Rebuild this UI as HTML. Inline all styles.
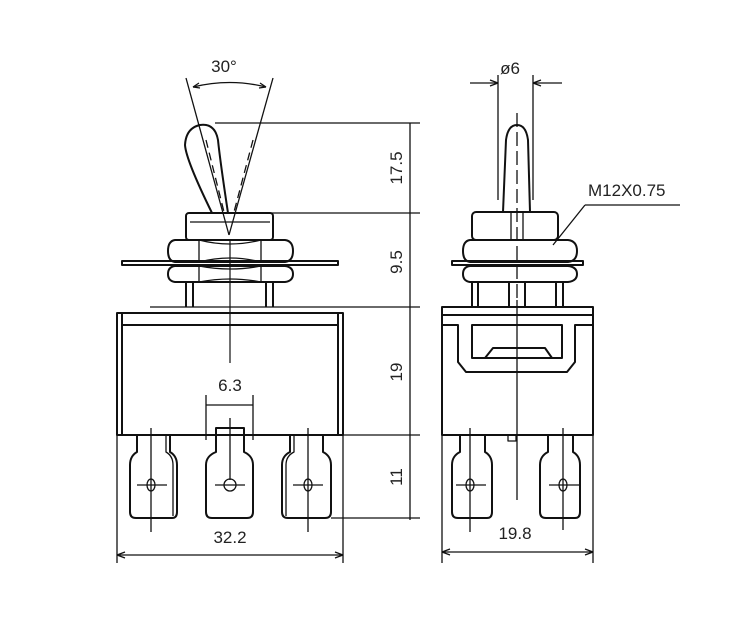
<!DOCTYPE html>
<html><head><meta charset="utf-8"><style>
html,body{margin:0;padding:0;background:#fff;}
svg{display:block;}
text{font-family:"Liberation Sans",sans-serif;fill:#222;}
</style></head><body>
<svg width="734" height="622" viewBox="0 0 734 622" xmlns="http://www.w3.org/2000/svg">
<g fill="none" stroke="#111" stroke-width="2" stroke-linejoin="round">
<!-- LEFT VIEW -->
<line x1="186" y1="78" x2="229" y2="235" stroke-width="1.3"/>
<line x1="273" y1="78" x2="229" y2="235" stroke-width="1.3"/>
<path d="M193 87 Q230 78 266 87" stroke-width="1.3"/>
<path d="M193 87 l6 -4 M193 87 l7 1 M266 87 l-6 -4 M266 87 l-7 1" stroke-width="1.2"/>
<path d="M200 125 Q186 128 185 145 Q186 160 212 213 L228 213 Q220 160 218 140 Q215 123 200 125 Z"/>
<line x1="206" y1="140" x2="224" y2="212" stroke-width="1.3" stroke-dasharray="8,5"/>
<line x1="253" y1="140" x2="234" y2="212" stroke-width="1.3" stroke-dasharray="8,5"/>
<rect x="186" y="213" width="87" height="27" rx="3"/>
<line x1="190" y1="222" x2="270" y2="222" stroke-width="1.3"/>
<path d="M175 240 L285 240 Q293 241 293 251 Q293 261 285 262 L175 262 Q168 261 168 251 Q168 241 175 240 Z"/>
<path d="M199 240 Q230 248 261 240 M199 262 Q230 254 261 262 M199 240 L199 262 M261 240 L261 262" stroke-width="1.3"/>
<rect x="122" y="261" width="216" height="4"/>
<path d="M175 266 L285 266 Q293 267 293 274 Q293 281 285 282 L175 282 Q168 281 168 274 Q168 267 175 266 Z"/>
<path d="M199 266 Q230 272 261 266 M199 282 Q230 276 261 282 M199 266 L199 282 M261 266 L261 282" stroke-width="1.3"/>
<line x1="186" y1="282" x2="186" y2="307"/><line x1="193" y1="282" x2="193" y2="307"/>
<line x1="266" y1="282" x2="266" y2="307"/><line x1="273" y1="282" x2="273" y2="307"/>
<line x1="150" y1="307" x2="420" y2="307" stroke-width="1.3"/>
<rect x="117" y="313" width="226" height="122"/>
<line x1="122" y1="313" x2="122" y2="435"/><line x1="338" y1="313" x2="338" y2="435"/>
<line x1="122" y1="325" x2="338" y2="325"/>
<line x1="117" y1="435" x2="117" y2="563" stroke-width="1.3"/>
<line x1="343" y1="435" x2="343" y2="563" stroke-width="1.3"/>
<line x1="230" y1="240" x2="230" y2="363" stroke-width="1.2"/>
<path d="M137 435 L137 452 Q130 456 130 465 L130 512 Q130 518 136 518 L172 518 Q177 518 177 512 L177 465 Q177 456 170 452 L170 435"/>
<path d="M166 435 L166 452 Q173 456 173 465 L173 516" stroke-width="1.3"/>
<path d="M216 428 L216 452 Q206 456 206 465 L206 512 Q206 518 212 518 L247 518 Q253 518 253 512 L253 465 Q253 456 244 452 L244 428 Z"/>
<path d="M290 435 L290 452 Q282 456 282 465 L282 512 Q282 518 288 518 L325 518 Q331 518 331 512 L331 465 Q331 456 323 452 L323 435"/>
<path d="M294 435 L294 452 Q286 456 286 465 L286 516" stroke-width="1.3"/>
<g stroke-width="1.3">
<ellipse cx="151" cy="485" rx="4" ry="6"/><line x1="137" y1="485" x2="167" y2="485"/><line x1="151" y1="428" x2="151" y2="532"/>
<circle cx="230" cy="485" r="6"/><line x1="215" y1="485" x2="245" y2="485"/><line x1="230" y1="418" x2="230" y2="480"/>
<ellipse cx="308" cy="485" rx="4" ry="6"/><line x1="293" y1="485" x2="323" y2="485"/><line x1="308" y1="428" x2="308" y2="532"/>
<line x1="206" y1="395" x2="206" y2="440"/><line x1="253" y1="395" x2="253" y2="440"/>
<line x1="206" y1="405" x2="253" y2="405"/>
<line x1="117" y1="555" x2="343" y2="555"/>
<path d="M117 555 l8 -3 M117 555 l8 3 M343 555 l-8 -3 M343 555 l-8 3"/>
<line x1="215" y1="123" x2="420" y2="123"/>
<line x1="265" y1="213" x2="420" y2="213"/>
<line x1="338" y1="435" x2="420" y2="435"/>
<line x1="331" y1="518" x2="420" y2="518"/>
<line x1="410" y1="123" x2="410" y2="520"/>
</g>
<!-- RIGHT VIEW -->
<g stroke-width="1.3">
<line x1="498" y1="75" x2="498" y2="200"/><line x1="533" y1="75" x2="533" y2="200"/>
<line x1="470" y1="83" x2="498" y2="83"/><line x1="533" y1="83" x2="562" y2="83"/>
<path d="M498 83 l-8 -3 M498 83 l-8 3 M533 83 l8 -3 M533 83 l8 3"/>
<line x1="517" y1="113" x2="517" y2="300" stroke-dasharray="14,5"/>
<line x1="517" y1="300" x2="517" y2="500"/>
<line x1="585" y1="205" x2="680" y2="205"/>
<line x1="585" y1="205" x2="553" y2="245"/>
</g>
<path d="M503 212 L506 140 Q508 125 517 125 Q526 125 528 140 L530 212"/>
<rect x="472" y="212" width="86" height="28" rx="4"/>
<line x1="511" y1="212" x2="511" y2="240" stroke-width="1.3"/><line x1="523" y1="212" x2="523" y2="240" stroke-width="1.3"/>
<path d="M470 240 L568 240 Q577 241 577 251 Q577 261 568 262 L470 262 Q463 261 463 251 Q463 241 470 240 Z"/>
<rect x="452" y="261" width="131" height="4"/>
<path d="M470 266 L568 266 Q577 267 577 274 Q577 281 568 282 L470 282 Q463 281 463 274 Q463 267 470 266 Z"/>
<line x1="472" y1="282" x2="472" y2="307"/><line x1="478" y1="282" x2="478" y2="307"/>
<line x1="509" y1="282" x2="509" y2="307"/><line x1="525" y1="282" x2="525" y2="307"/>
<line x1="556" y1="282" x2="556" y2="307"/><line x1="563" y1="282" x2="563" y2="307"/>
<rect x="442" y="307" width="151" height="128"/>
<line x1="442" y1="315" x2="593" y2="315"/>
<path d="M443 325 L458 325 L458 362 L466 372 L567 372 L575 362 L575 325 L592 325"/>
<rect x="472" y="325" width="90" height="33"/>
<path d="M485 358 L493 348 L545 348 L552 358"/>
<line x1="442" y1="435" x2="442" y2="563" stroke-width="1.3"/>
<line x1="593" y1="435" x2="593" y2="563" stroke-width="1.3"/>
<path d="M442 435 L508 435 L508 441 L516 441 L516 435 L593 435" stroke-width="1.3"/>
<path d="M460 435 L460 452 Q452 456 452 465 L452 512 Q452 518 458 518 L487 518 Q492 518 492 512 L492 465 Q492 456 485 452 L485 435"/>
<path d="M548 435 L548 452 Q540 456 540 465 L540 512 Q540 518 546 518 L575 518 Q580 518 580 512 L580 465 Q580 456 573 452 L573 435"/>
<g stroke-width="1.3">
<ellipse cx="470" cy="485" rx="4" ry="6"/><line x1="456" y1="485" x2="486" y2="485"/><line x1="470" y1="428" x2="470" y2="532"/>
<ellipse cx="563" cy="485" rx="4" ry="6"/><line x1="549" y1="485" x2="579" y2="485"/><line x1="563" y1="428" x2="563" y2="530"/>
<line x1="442" y1="552" x2="593" y2="552"/>
<path d="M442 552 l8 -3 M442 552 l8 3 M593 552 l-8 -3 M593 552 l-8 3"/>
</g>
</g>
<g font-size="17">
<text x="224" y="72" text-anchor="middle">30°</text>
<text x="230" y="391" text-anchor="middle">6.3</text>
<text x="230" y="543" text-anchor="middle">32.2</text>
<text x="515" y="539" text-anchor="middle">19.8</text>
<text x="510" y="74" text-anchor="middle">ø6</text>
<text x="588" y="196">M12X0.75</text>
<text transform="translate(402,168) rotate(-90)" text-anchor="middle">17.5</text>
<text transform="translate(402,262) rotate(-90)" text-anchor="middle">9.5</text>
<text transform="translate(402,372) rotate(-90)" text-anchor="middle">19</text>
<text transform="translate(402,477) rotate(-90)" text-anchor="middle">11</text>
</g>
</svg>
</body></html>
